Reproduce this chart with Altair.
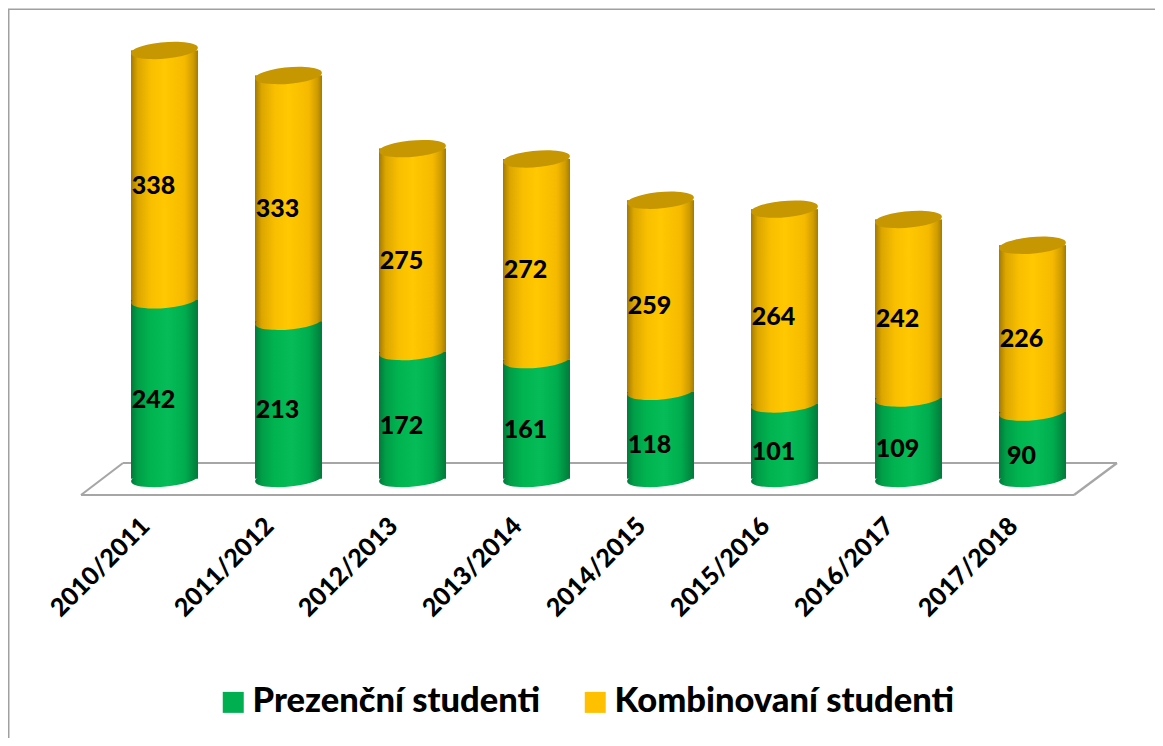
import altair as alt
import pandas as pd

years = ["2010/2011", "2011/2012", "2012/2013", "2013/2014", "2014/2015", "2015/2016", "2016/2017", "2017/2018"]
prezencni = [242, 213, 172, 161, 118, 101, 109, 90]
kombinovani = [338, 333, 275, 272, 259, 264, 242, 226]
series_names = ["Prezenční studenti", "Kombinovaní studenti"]
series_colors = ["#00B050", "#FFC000"]

FONT = "Lato"
WEIGHT = 900
PX_PER_UNIT = 0.738
PLOT_W, PLOT_H = 992, 458
LEFT, TOP = 102.5, 20.5   # page position of the plot area
TOTAL_W, TOTAL_H = 1147, 730
ELLIPSE = "M -0.996 0.087 A 1 0.24 -5 1 1 0.996 -0.087 A 1 0.24 -5 1 1 -0.996 0.087 Z"
ELL_SIZE = 67 ** 2

rows = []
for y, p, k in zip(years, prezencni, kombinovani):
    rows.append({"year": y, "series": series_names[0], "start": 0, "end": p, "value": p, "mid": p / 2})
    rows.append({"year": y, "series": series_names[1], "start": p, "end": p + k, "value": k, "mid": p + k / 2})
df = pd.DataFrame(rows)
green = df[df.series == series_names[0]]
amber = df[df.series == series_names[1]]


def grad(stops):
    return alt.Gradient(
        gradient="linear", x1=0, x2=1, y1=0, y2=0,
        stops=[alt.GradientStop(offset=o, color=c) for o, c in stops],
    )


green_grad = grad([(0, "#007a3a"), (.1, "#009e48"), (.3, "#00b550"), (.55, "#06bc58"),
                   (.8, "#00ad4e"), (.92, "#008f42"), (1, "#007a3a")])
amber_grad = grad([(0, "#a37a00"), (.1, "#dca600"), (.3, "#f9bf00"), (.5, "#ffc800"),
                   (.8, "#f5ba00"), (.93, "#cf9c00"), (1, "#a37a00")])

x_enc = alt.X(
    "year:N", sort=years, title=None,
    scale=alt.Scale(paddingInner=0.46, paddingOuter=0.23),
    axis=alt.Axis(
        domain=False, ticks=False, grid=False, labelAngle=-45, labelAlign="right", labelBaseline="middle",
        labelFont=FONT, labelFontWeight=WEIGHT, labelFontSize=25, labelColor="#000000",
        labelPadding=43, labelOffset=-19, labelOverlap=False, labelFlush=False,
    ),
)
y_scale = alt.Scale(domain=[0, PLOT_H / PX_PER_UNIT], nice=False, zero=False)
y_start = alt.Y("start:Q", scale=y_scale, axis=None, title=None)
y_end = alt.Y("end:Q", scale=y_scale, axis=None, title=None)


def line(x1, y1, x2, y2, color="#a6a6a6", width=2.2):
    return alt.Chart(pd.DataFrame({"a": [0]})).mark_rule(color=color, strokeWidth=width).encode(
        x=alt.value(x1 - LEFT), x2=alt.value(x2 - LEFT), y=alt.value(y1 - TOP), y2=alt.value(y2 - TOP)
    )


frame = [
    line(8.7, 9.3, 8.7, 746, "#a0a0a0", 1.6),
    line(8, 9.3, 1163, 9.3, "#a0a0a0", 1.6),
]
floor = [
    line(123, 463, 1117, 463),
    line(81, 495, 1074, 495),
    line(123, 463, 81, 495),
    line(1117, 463, 1074, 495),
]

base = alt.Chart(df).mark_bar(size=67).encode(
    x=x_enc, y=y_start, y2="end:Q",
    color=alt.Color(
        "series:N", title=None,
        scale=alt.Scale(domain=series_names, range=series_colors),
        legend=alt.Legend(
            orient="none", legendX=216 - LEFT, legendY=685 - TOP, direction="horizontal", columns=2,
            symbolType="square", symbolSize=441, symbolStrokeWidth=0, symbolOpacity=1,
            labelFont=FONT, labelFontWeight=WEIGHT, labelFontSize=34.5, labelColor="#000000",
            labelOffset=2, labelLimit=500, columnPadding=37, padding=0,
        ),
    ),
)

x_plain = alt.X("year:N", sort=years)
green_bottom = alt.Chart(green).mark_point(
    shape=ELLIPSE, size=ELL_SIZE, filled=True, opacity=1, color=green_grad, strokeWidth=0
).encode(x=x_plain, y=y_start)
green_bar = alt.Chart(green).mark_bar(size=67, color=green_grad).encode(x=x_plain, y=y_start, y2="end:Q")
amber_bar = alt.Chart(amber).mark_bar(size=67, color=amber_grad).encode(x=x_plain, y=y_start, y2="end:Q")
amber_low = alt.Chart(amber).mark_point(
    shape=ELLIPSE, size=ELL_SIZE, filled=True, opacity=1, color=amber_grad, strokeWidth=0
).encode(x=x_plain, y=y_start)
amber_top = alt.Chart(amber).mark_point(
    shape=ELLIPSE, size=ELL_SIZE, filled=True, opacity=1, color="#c69700", strokeWidth=0
).encode(x=x_plain, y=y_end)
labels = alt.Chart(df).mark_text(
    font=FONT, fontWeight=WEIGHT, fontSize=25, color="#000000", dx=-11, dy=10.5, align="center", baseline="middle"
).encode(
    x=x_plain,
    y=alt.Y("mid:Q", scale=y_scale, axis=None, title=None),
    text="value:Q",
)

chart = alt.layer(
    *frame, *floor, base, green_bottom, green_bar, amber_bar, amber_low, amber_top, labels
).properties(
    width=PLOT_W, height=PLOT_H,
    padding={"left": LEFT - 8, "top": TOP - 8,
             "right": TOTAL_W - (LEFT - 8) - PLOT_W, "bottom": TOTAL_H - (TOP - 8) - PLOT_H},
    autosize=alt.AutoSizeParams(type="none"),
    background="#ffffff",
).configure_view(stroke=None)

chart.save("out.html", embed_options={"renderer": "svg", "actions": False})
